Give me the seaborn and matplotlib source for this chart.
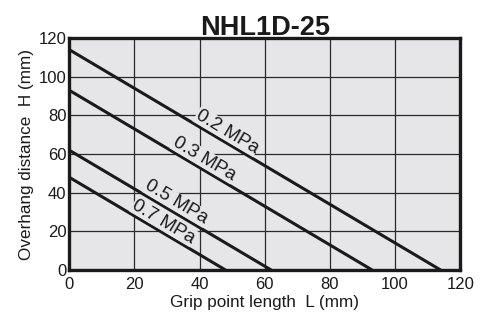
import matplotlib
matplotlib.use("Agg")
import matplotlib.pyplot as plt
import seaborn as sns
import pandas as pd
import numpy as np

# chart data
pressures = ["0.2 MPa", "0.3 MPa", "0.5 MPa", "0.7 MPa"]
h_at_zero = [114, 93, 62, 48]      # overhang H where L = 0
l_at_zero = [114, 93, 62, 48]      # grip length L where H = 0
label_x = [48.5, 41.5, 33, 29]     # where each pressure label sits along L
x_ticks = [0, 20, 40, 60, 80, 100, 120]
y_ticks = [0, 20, 40, 60, 80, 100, 120]

sns.set_theme(style="white")
plt.rcParams['font.family'] = ['Liberation Sans', 'DejaVu Sans']

bg = '#e6e6e8'

rows = []
for p, h0, l0 in zip(pressures, h_at_zero, l_at_zero):
    rows.append({'pressure': p, 'L': 0, 'H': h0})
    rows.append({'pressure': p, 'L': l0, 'H': 0})
df = pd.DataFrame(rows)

fig, ax = plt.subplots(figsize=(4.87, 3.14), dpi=100)
fig.subplots_adjust(left=0.142, right=0.945, top=0.879, bottom=0.140)
ax.set_facecolor(bg)

sns.lineplot(data=df, x='L', y='H', units='pressure', estimator=None,
             color='#1a1a1a', linewidth=2.2, ax=ax, zorder=3)

ax.set_xlim(0, 120)
ax.set_ylim(0, 120)
ax.set_xticks(x_ticks)
ax.set_yticks(y_ticks)
ax.grid(True, color='#2a2a2a', linewidth=0.9)
ax.set_axisbelow(True)
for s in ax.spines.values():
    s.set_linewidth(2.4)
    s.set_color('#1a1a1a')
ax.tick_params(axis='both', length=0, labelsize=12, colors='#1a1a1a')
ax.tick_params(axis='x', pad=5)
ax.tick_params(axis='y', pad=2)

ax.set_title('NHL1D-25', fontsize=19.5, fontweight='bold', pad=2, color='#1a1a1a')
ax.set_xlabel('Grip point length  L (mm)', fontsize=12.3, labelpad=2, color='#1a1a1a')
ax.set_ylabel('Overhang distance  H (mm)', fontsize=12.3, labelpad=3, color='#1a1a1a')

# rotated labels sitting just above each line
for p, h0, l0, lx in zip(pressures, h_at_zero, l_at_zero, label_x):
    p1 = ax.transData.transform((0, h0))
    p2 = ax.transData.transform((l0, 0))
    ang = np.degrees(np.arctan2(p2[1] - p1[1], p2[0] - p1[0]))
    ly = h0 - h0 / l0 * lx
    ax.annotate(p, xy=(lx, ly), xytext=(0, 8.5), textcoords='offset points',
                rotation=ang, rotation_mode='anchor', ha='center', va='center',
                fontsize=13.5, color='#1a1a1a', zorder=4,
                bbox=dict(boxstyle='square,pad=0.02', fc=bg, ec='none'))

plt.savefig('out.png', dpi=100)
